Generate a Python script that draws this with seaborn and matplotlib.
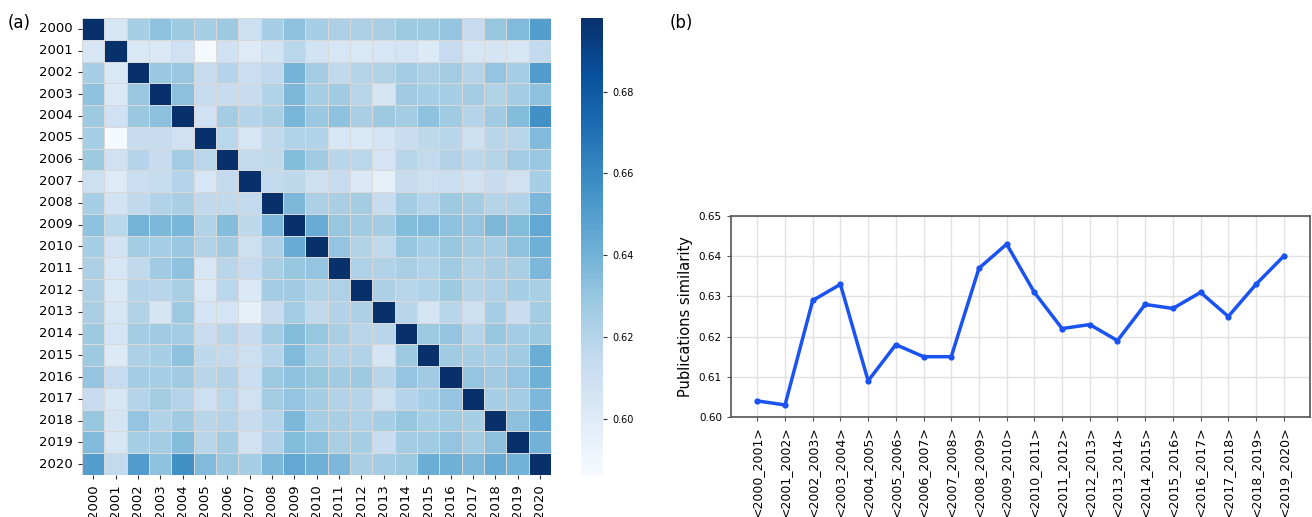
import numpy as np
import pandas as pd
import seaborn as sns
import matplotlib.pyplot as plt
import matplotlib.ticker as ticker

years = list(range(2000, 2021))

# upper triangle of the year-to-year similarity matrix (row i, columns i+1..2020)
upper_rows = [
    [0.604, 0.625, 0.632, 0.628, 0.625, 0.628, 0.610, 0.625, 0.632, 0.625, 0.623, 0.623, 0.624, 0.628, 0.628, 0.631, 0.614, 0.630, 0.636, 0.650],
    [0.603, 0.602, 0.609, 0.588, 0.609, 0.600, 0.607, 0.618, 0.607, 0.604, 0.603, 0.604, 0.606, 0.601, 0.614, 0.604, 0.605, 0.604, 0.615],
    [0.629, 0.629, 0.613, 0.620, 0.611, 0.616, 0.639, 0.626, 0.616, 0.620, 0.621, 0.626, 0.623, 0.626, 0.620, 0.631, 0.625, 0.651],
    [0.633, 0.613, 0.613, 0.613, 0.621, 0.637, 0.625, 0.627, 0.619, 0.605, 0.627, 0.625, 0.625, 0.626, 0.621, 0.626, 0.632],
    [0.609, 0.626, 0.620, 0.624, 0.638, 0.629, 0.632, 0.624, 0.628, 0.626, 0.632, 0.627, 0.620, 0.627, 0.635, 0.656],
    [0.618, 0.604, 0.616, 0.621, 0.621, 0.604, 0.603, 0.606, 0.612, 0.617, 0.619, 0.610, 0.619, 0.619, 0.636],
    [0.615, 0.616, 0.635, 0.627, 0.619, 0.618, 0.606, 0.619, 0.615, 0.621, 0.618, 0.620, 0.626, 0.629],
    [0.615, 0.617, 0.610, 0.614, 0.602, 0.596, 0.613, 0.610, 0.611, 0.608, 0.613, 0.608, 0.625],
    [0.637, 0.623, 0.624, 0.626, 0.613, 0.626, 0.620, 0.628, 0.626, 0.620, 0.621, 0.637],
    [0.643, 0.630, 0.627, 0.626, 0.635, 0.636, 0.632, 0.631, 0.637, 0.635, 0.645],
    [0.631, 0.621, 0.616, 0.630, 0.625, 0.630, 0.626, 0.625, 0.632, 0.641],
    [0.622, 0.621, 0.624, 0.621, 0.627, 0.621, 0.624, 0.624, 0.637],
    [0.623, 0.619, 0.621, 0.628, 0.620, 0.622, 0.625, 0.624],
    [0.619, 0.605, 0.619, 0.610, 0.625, 0.612, 0.626],
    [0.628, 0.631, 0.620, 0.630, 0.626, 0.628],
    [0.627, 0.625, 0.625, 0.627, 0.642],
    [0.631, 0.627, 0.631, 0.641],
    [0.625, 0.626, 0.637],
    [0.633, 0.643],
    [0.640],
]

pair_labels = ["<%d_%d>" % (y, y + 1) for y in range(2000, 2020)]
pair_similarity = [0.604, 0.603, 0.629, 0.633, 0.609, 0.618, 0.615, 0.615, 0.637, 0.643,
                   0.631, 0.622, 0.623, 0.619, 0.628, 0.627, 0.631, 0.625, 0.633, 0.640]

n = len(years)
mat = np.ones((n, n))
for i, row in enumerate(upper_rows):
    for k, v in enumerate(row):
        mat[i, i + 1 + k] = v
        mat[i + 1 + k, i] = v
sim = pd.DataFrame(mat, index=years, columns=years)

W, H = 1312, 517
fig = plt.figure(figsize=(W / 100, H / 100), dpi=100)


def px(x0, y0, x1, y1):
    return [x0 / W, 1 - y1 / H, (x1 - x0) / W, (y1 - y0) / H]


# (a) heatmap
ax1 = fig.add_axes(px(82, 18, 551, 475))
cax = fig.add_axes(px(581, 18, 603, 476))
sns.heatmap(sim, cmap="Blues", vmin=0.586, vmax=0.698, linewidths=0.5,
            linecolor="#d8d8d8", ax=ax1, cbar_ax=cax, square=False)
ax1.tick_params(axis="both", labelsize=9.5, length=3, color="#333333")
ax1.set_xticklabels(years, rotation=90)
ax1.set_yticklabels(years, rotation=0)
ax1.set_xlabel("")
ax1.set_ylabel("")
cax.set_yticks([0.60, 0.62, 0.64, 0.66, 0.68])
cax.yaxis.set_major_formatter(ticker.FormatStrFormatter('%.2f'))
cax.tick_params(labelsize=7, length=3, color="#333333")

# (b) similarity of consecutive years
ax2 = fig.add_axes(px(731, 216, 1310, 417))
df = pd.DataFrame({"pair": pair_labels, "similarity": pair_similarity})
sns.lineplot(data=df, x="pair", y="similarity", color="#1a53f2", linewidth=2.5,
             marker="o", markersize=4.5, markeredgewidth=0, ax=ax2)
ax2.set_ylim(0.60, 0.65)
ax2.set_yticks([0.60, 0.61, 0.62, 0.63, 0.64, 0.65])
ax2.yaxis.set_major_formatter(ticker.FormatStrFormatter('%.2f'))
ax2.set_xlabel("")
ax2.set_ylabel("Publications similarity", fontsize=10.5)
ax2.tick_params(axis="x", labelsize=9, rotation=90, length=3, color="#555555")
ax2.tick_params(axis="y", labelsize=7.5, length=3, color="#555555")
ax2.grid(True, color="#e2e2e2", linewidth=1)
ax2.set_axisbelow(True)
for s in ax2.spines.values():
    s.set_color("#555555")
    s.set_linewidth(1.2)

fig.text(8 / W, 1 - 28 / H, "(a)", fontsize=12)
fig.text(670 / W, 1 - 28 / H, "(b)", fontsize=12)

plt.savefig("out.png", dpi=100)
